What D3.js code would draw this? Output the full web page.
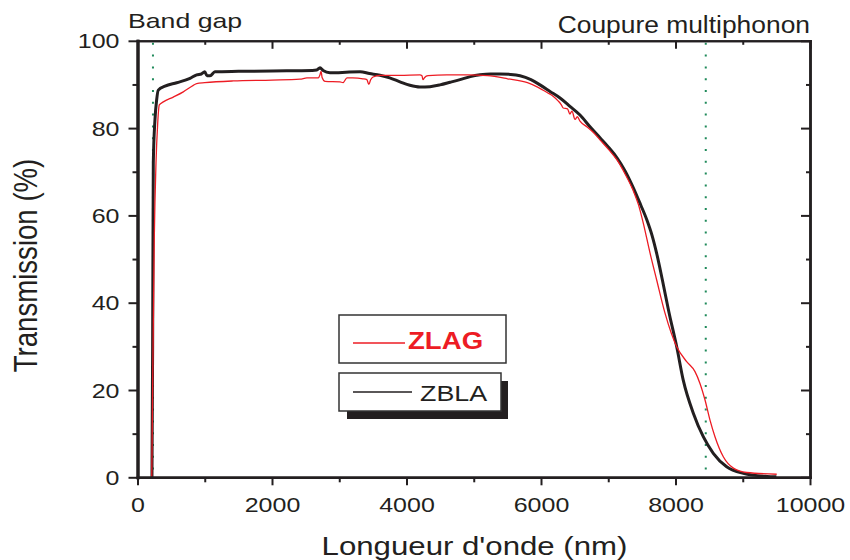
<!DOCTYPE html>
<html>
<head>
<meta charset="utf-8">
<script src="https://cdn.jsdelivr.net/npm/d3@7"></script>
<style>
  html, body { margin: 0; padding: 0; background: #fff; }
  svg { display: block; font-family: "Liberation Sans", Arial, sans-serif; }
</style>
</head>
<body>
<svg id="chart" width="850" height="560"></svg>
<script>
// ---- data ----
const zblaNm = [215,225,235,260,285,309,409,583,781,880,950,1000,1033,1080,1152,1500,2000,2600,2665,2714,2760,2862,2950,3100,3309,3450,3606,3750,3903,4050,4200,4350,4498,4650,4796,4950,5093,5250,5390,5550,5688,5850,5985,6134,6283,6430,6580,6729,6877,7000,7130,7250,7368,7480,7576,7650,7720,7805,7900,8018,8116,8265,8413,8562,8761,9009,9361,9500];
const zblaT  = [0,30,72,82,86.5,88.7,89.6,90.4,91.4,92.2,92.4,92.9,92.0,92.0,92.9,93.0,93.1,93.2,93.3,93.8,93.2,92.7,92.7,92.8,92.9,92.5,92.1,91.5,90.6,89.8,89.4,89.5,89.9,90.5,91.1,91.8,92.2,92.4,92.4,92.3,92.0,91.1,89.9,88.4,86.9,85.0,83.0,80.3,77.8,75.7,73.2,70.2,66.5,62.5,58.9,55.5,51.3,45.2,38.0,29.9,22.2,14.7,9.3,5.5,2.4,0.9,0.2,0.1];

const zlagNm = [212,228,250,275,300,324,384,532,681,830,880,1000,1420,2000,2416,2520,2690,2715,2730,2745,2790,3011,3056,3115,3200,3353,3410,3440,3465,3502,3606,3903,4200,4230,4245,4270,4320,4600,4907,5204,5502,5799,5950,6097,6180,6250,6300,6330,6394,6430,6460,6506,6540,6580,6691,6780,6877,7000,7130,7250,7368,7450,7520,7621,7720,7844,8018,8166,8290,8364,8439,8513,8587,8711,8860,9058,9505];
const zlagT  = [0,25,55,72,81,85.3,86.0,87.1,88.3,89.8,90.2,90.4,90.8,91.0,91.2,91.5,91.5,92.3,93.0,91.6,90.7,90.6,90.4,91.5,91.5,91.3,91.1,90.0,91.0,91.7,92.1,92.1,92.2,92.0,91.1,91.6,92.0,92.2,92.2,92.0,91.3,90.4,89.4,88.1,87.3,86.3,85.4,84.6,84.4,83.2,83.9,82.0,82.6,81.6,80.2,79.0,77.3,75.2,72.7,69.5,65.8,62.4,58.3,51.4,45.2,37.6,29.9,26.5,24.2,21.5,17.7,13.1,9.3,4.7,2.1,1.1,0.7];

const seriesNames = ["ZLAG", "ZBLA"];
const xTicks = [0,2000,4000,6000,8000,10000];
const xMinor = [1000,3000,5000,7000,9000];
const yTicks = [0,20,40,60,80,100];
const yMinor = [10,30,50,70,90];
const markerNm = [230, 8450];
const titleLeft = "Band gap";
const titleRight = "Coupure multiphonon";
const xTitle = "Longueur d'onde (nm)";
const yTitle = "Transmission (%)";

// ---- layout ----
const L = 137.5, R = 810, T = 40.8, B = 477.3;
const ink = "#231f20", red = "#ed1c24", green = "#1f8a5a";
const svg = d3.select("#chart");
const x = d3.scaleLinear().domain([0, 10000]).range([L, R]);
const y = d3.scaleLinear().domain([0, 100]).range([B, T]);

svg.append("defs").append("clipPath").attr("id", "plot")
  .append("rect").attr("x", L).attr("y", T - 2).attr("width", R - L).attr("height", B - T + 2);

// marker dotted lines
svg.append("g").selectAll("line").data(markerNm).join("line")
  .attr("x1", d => x(d)).attr("x2", d => x(d))
  .attr("y1", T + 2).attr("y2", B)
  .attr("stroke", green).attr("stroke-width", 2)
  .attr("stroke-dasharray", "2,9.8");

// curves
const line = d3.line().x(d => x(d[0])).y(d => y(d[1])).curve(d3.curveMonotoneX);
const zlag = zlagNm.map((n, i) => [n, zlagT[i]]);
const zbla = zblaNm.map((n, i) => [n, zblaT[i]]);
const plot = svg.append("g").attr("clip-path", "url(#plot)");
plot.append("path").datum(zbla).attr("d", line).attr("fill", "none")
  .attr("stroke", ink).attr("stroke-width", 3).attr("stroke-linejoin", "round");
plot.append("path").datum(zlag).attr("d", line).attr("fill", "none")
  .attr("stroke", red).attr("stroke-width", 1.3).attr("stroke-linejoin", "round");

// axes
function styleAxis(g) {
  g.selectAll("path.domain").attr("stroke", ink).attr("stroke-width", 2.5);
  g.selectAll(".tick line").attr("stroke", ink).attr("stroke-width", 2);
}
const fmt = d3.format("d");
const sx = 1.19;

// bottom major
const gb = svg.append("g").attr("transform", `translate(0,${B})`)
  .call(d3.axisBottom(x).tickValues(xTicks).tickSize(8).tickSizeOuter(0).tickFormat(fmt));
styleAxis(gb);
gb.selectAll(".tick text").attr("y", 20).attr("dy", "0.71em")
  .attr("font-size", 21).attr("fill", ink).attr("font-family", null)
  .attr("transform", `scale(${sx},1)`);
const gbm = svg.append("g").attr("transform", `translate(0,${B})`)
  .call(d3.axisBottom(x).tickValues(xMinor).tickSize(5).tickSizeOuter(0).tickFormat(""));
styleAxis(gbm);

// top (ticks inward)
const gt = svg.append("g").attr("transform", `translate(0,${T})`)
  .call(d3.axisBottom(x).tickValues(xTicks).tickSize(8).tickSizeOuter(0).tickFormat(""));
styleAxis(gt);
gt.selectAll("path.domain").attr("stroke-width", 2);
const gtm = svg.append("g").attr("transform", `translate(0,${T})`)
  .call(d3.axisBottom(x).tickValues(xMinor).tickSize(4).tickSizeOuter(0).tickFormat(""));
styleAxis(gtm);
gtm.selectAll("path.domain").attr("stroke-width", 2);

// left major
const gl = svg.append("g").attr("transform", `translate(${L},0)`)
  .call(d3.axisLeft(y).tickValues(yTicks).tickSize(9).tickSizeOuter(0).tickFormat(fmt));
styleAxis(gl);
gl.selectAll("path.domain").attr("stroke-width", 3);
gl.selectAll(".tick text").attr("x", -18 / sx).attr("dy", "0.34em")
  .attr("font-size", 21).attr("fill", ink).attr("font-family", null)
  .attr("transform", `scale(${sx},1)`);
const glm = svg.append("g").attr("transform", `translate(${L},0)`)
  .call(d3.axisLeft(y).tickValues(yMinor).tickSize(5).tickSizeOuter(0).tickFormat(""));
styleAxis(glm);
glm.selectAll("path.domain").attr("stroke-width", 3);

// right (ticks inward)
const gr = svg.append("g").attr("transform", `translate(${R},0)`)
  .call(d3.axisLeft(y).tickValues(yTicks).tickSize(9).tickSizeOuter(0).tickFormat(""));
styleAxis(gr);
const grm = svg.append("g").attr("transform", `translate(${R},0)`)
  .call(d3.axisLeft(y).tickValues(yMinor).tickSize(4).tickSizeOuter(0).tickFormat(""));
styleAxis(grm);
svg.selectAll(".domain").attr("stroke-linecap", "square");

// text helper (the reference is horizontally stretched)
function label(px, py, str, size, anchor, scaleX, opts = {}) {
  const g = svg.append("g").attr("transform", `translate(${px},${py}) scale(${scaleX},1)` + (opts.rotate ? ` rotate(${opts.rotate})` : ""));
  return g.append("text").text(str).attr("font-size", size).attr("text-anchor", anchor)
    .attr("fill", opts.fill || ink).attr("font-weight", opts.weight || "normal");
}

label(128, 28, titleLeft, 21, "start", 1.27);
label(810, 33, titleRight, 24, "end", 1.10);
label(474.5, 555, xTitle, 26, "middle", 1.2);
label(37, 265.5, yTitle, 27.6, "middle", 1.2, { rotate: -90 });

// legend
const leg = svg.append("g");
leg.append("rect").attr("x", 339).attr("y", 315).attr("width", 167).attr("height", 48)
  .attr("fill", "#fff").attr("stroke", "#333").attr("stroke-width", 1.5);
leg.append("line").attr("x1", 353).attr("x2", 405).attr("y1", 343).attr("y2", 343)
  .attr("stroke", red).attr("stroke-width", 1.5);
label(408, 349, seriesNames[0], 24, "start", 1.15, { fill: red, weight: "bold" });

leg.append("rect").attr("x", 347).attr("y", 381).attr("width", 161).attr("height", 38)
  .attr("fill", ink);
leg.append("rect").attr("x", 339).attr("y", 373).attr("width", 162).attr("height", 38)
  .attr("fill", "#fff").attr("stroke", "#333").attr("stroke-width", 1.5);
leg.append("line").attr("x1", 353).attr("x2", 412).attr("y1", 392).attr("y2", 392)
  .attr("stroke", ink).attr("stroke-width", 1.5);
label(420, 401, seriesNames[1], 22, "start", 1.22);
</script>
</body>
</html>
